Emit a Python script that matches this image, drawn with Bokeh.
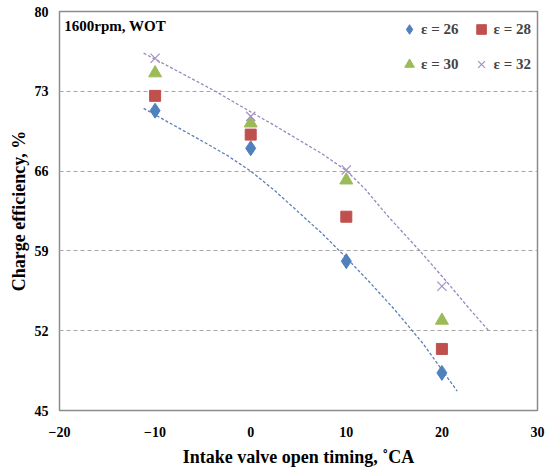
from bokeh.plotting import figure
from bokeh.models import Legend, LegendItem, Label, FixedTicker, Range1d
from bokeh.embed import file_html
from bokeh.resources import INLINE

# data
timing = [-10, 0, 10, 20]
eff_26 = [71.3, 68.0, 58.1, 48.3]
eff_28 = [72.6, 69.2, 62.0, 50.4]
eff_30 = [74.6, 70.2, 65.2, 52.9]
eff_32 = [75.9, 70.8, 66.1, 55.9]

trend_26_x = [-11.2, -8, -5, -2.5, 0, 2.5, 5, 7.5, 10, 12.5, 15, 18, 21.6]
trend_26_y = [71.5, 70.0, 68.6, 67.4, 66.0, 64.3, 62.4, 60.5, 58.4, 56.2, 53.9, 50.9, 46.7]
trend_32_x = [-11.2, -7.5, -3.8, 0, 2.5, 5, 7.5, 10, 12, 14.4, 17.8, 20.5, 22.9, 24.9]
trend_32_y = [76.35, 74.7, 73.05, 71.2, 70.0, 68.75, 67.5, 66.05, 64.4, 62.0, 58.9, 56.3, 53.9, 52.0]

x_ticks = [-20, -10, 0, 10, 20, 30]
y_ticks = [45, 52, 59, 66, 73, 80]

FONT = "Liberation Serif"

p = figure(width=555, height=469, output_backend="svg", toolbar_location=None,
           x_range=Range1d(-20, 30), y_range=Range1d(45, 80),
           min_border_left=59, min_border_right=18, min_border_top=11, min_border_bottom=59)
p.outline_line_color = "#8c8c8c"
p.outline_line_width = 1.5
p.background_fill_color = "white"
p.border_fill_color = "white"

p.xgrid.grid_line_color = None
p.ygrid.grid_line_color = "#a6a6a6"
p.ygrid.grid_line_dash = "4 3"
p.ygrid.grid_line_width = 1.2

for ax in (p.xaxis, p.yaxis):
    ax.axis_line_color = None
    ax.major_tick_line_color = None
    ax.minor_tick_line_color = None
    ax.major_tick_out = 0
    ax.major_tick_in = 0
    ax.major_label_text_font = FONT
    ax.major_label_text_font_style = "bold"
    ax.major_label_text_font_size = "14px"
    ax.major_label_text_color = "black"
    ax.axis_label_text_font = FONT
    ax.axis_label_text_font_style = "bold"
    ax.axis_label_text_font_size = "18px"
    ax.axis_label_text_color = "black"

p.xaxis.ticker = FixedTicker(ticks=x_ticks)
p.yaxis.ticker = FixedTicker(ticks=y_ticks)
p.xaxis.major_label_standoff = 16
p.yaxis.major_label_standoff = 11
p.xaxis.axis_label = "Intake valve open timing, ˚CA"
p.yaxis.axis_label = "Charge efficiency, %"
p.xaxis.axis_label_standoff = 7
p.yaxis.axis_label_standoff = 3

# trend lines
p.line(trend_26_x, trend_26_y, line_color="#5b7fb8", line_dash="3 2", line_width=1.3)
p.line(trend_32_x, trend_32_y, line_color="#9a85bf", line_dash="3 2", line_width=1.3)

r26 = p.scatter(timing, eff_26, marker="diamond", size=15, fill_color="#4F81BD", line_color="#4F81BD")
r28 = p.scatter(timing, eff_28, marker="square", size=11, fill_color="#C0504D", line_color="#C0504D")
r30 = p.scatter(timing, eff_30, marker="triangle", size=13, fill_color="#9BBB59", line_color="#9BBB59")
r32 = p.scatter(timing, eff_32, marker="x", size=13, line_color="#a593c8", line_width=1.3)

legend = Legend(items=[
    LegendItem(label="ε = 26", renderers=[r26]),
    LegendItem(label="ε = 28", renderers=[r28]),
    LegendItem(label="ε = 30", renderers=[r30]),
    LegendItem(label="ε = 32", renderers=[r32]),
], location="top_right", ncols=2, orientation="horizontal")
legend.label_text_font = FONT
legend.label_text_font_style = "bold"
legend.label_text_font_size = "15px"
legend.label_standoff = 0
legend.glyph_width = 24
legend.glyph_height = 24
legend.spacing = 11
legend.label_height = 14
legend.padding = 6
legend.margin = 6
legend.border_line_color = None
legend.background_fill_alpha = 0
p.add_layout(legend)

p.add_layout(Label(x=-19.5, y=78.75, text="1600rpm,  WOT", text_font=FONT, text_font_style="bold",
                   text_font_size="15px", text_baseline="middle", text_color="black"))

open("out.html", "w").write(file_html(p, INLINE))
